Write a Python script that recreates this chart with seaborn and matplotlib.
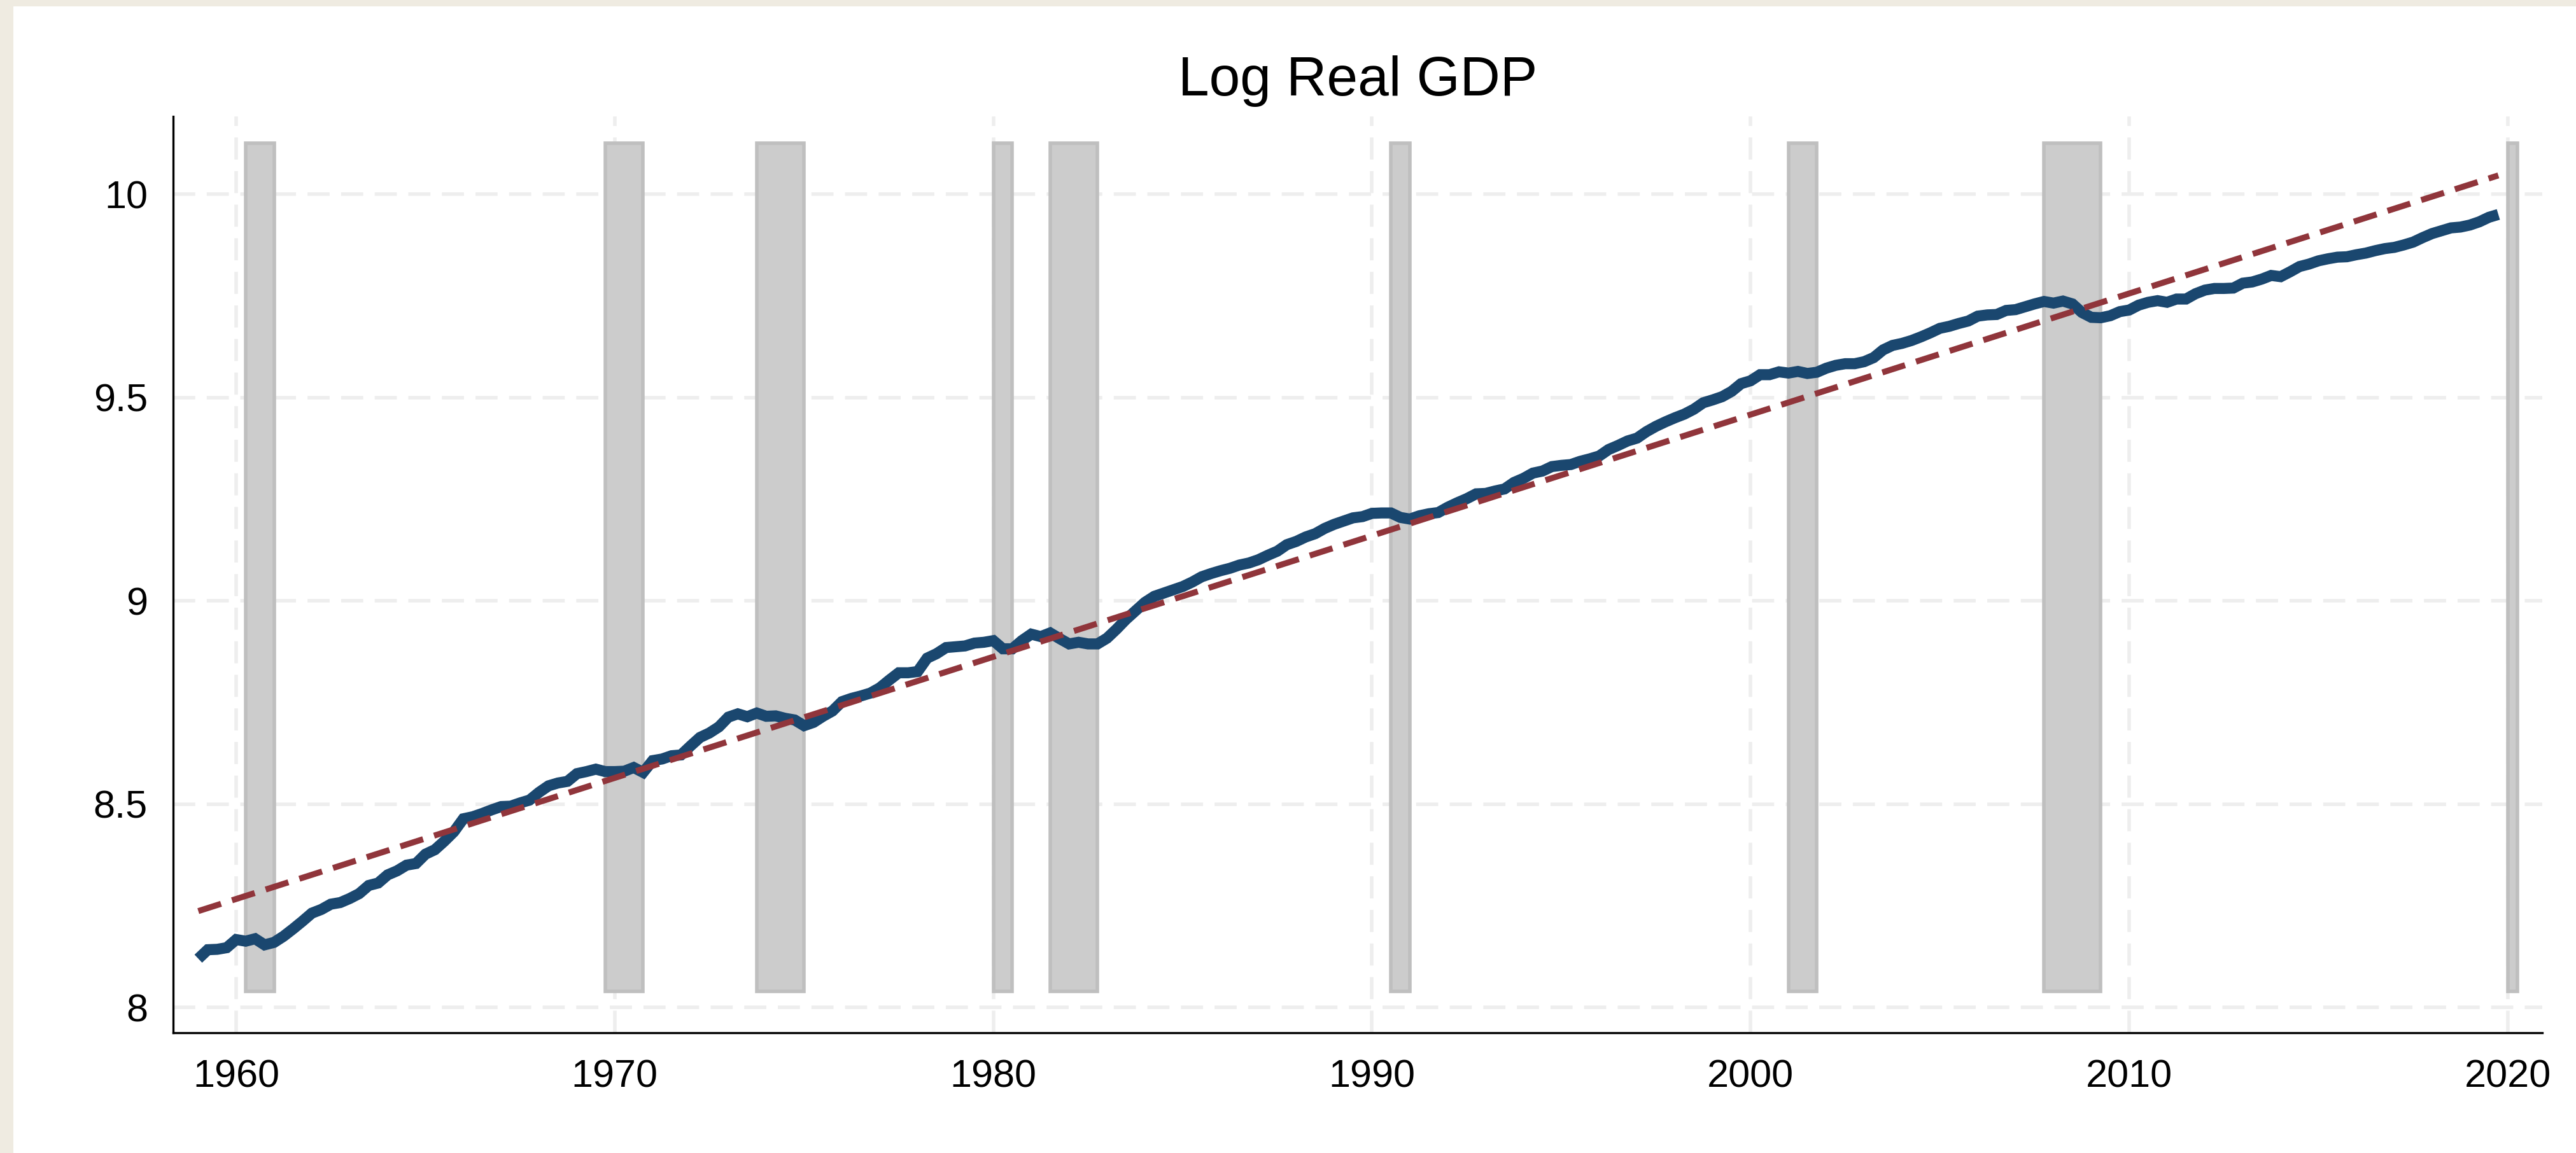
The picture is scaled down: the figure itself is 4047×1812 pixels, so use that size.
import numpy as np
import pandas as pd
import matplotlib
matplotlib.use("Agg")
import matplotlib.pyplot as plt
import seaborn as sns
from matplotlib.patches import Rectangle

# ---------------- data ----------------
title_text = "Log Real GDP"
start_year = 1959  # first quarter 1959Q1, quarterly data through 2019Q4

log_gdp = [
    8.120, 8.142, 8.143, 8.147,   # 1959
    8.167, 8.163, 8.169, 8.154,   # 1960
    8.160, 8.175, 8.193, 8.212,   # 1961
    8.232, 8.241, 8.254, 8.258,   # 1962
    8.268, 8.280, 8.300, 8.306,   # 1963
    8.326, 8.336, 8.350, 8.354,   # 1964
    8.377, 8.388, 8.409, 8.432,   # 1965
    8.464, 8.469, 8.477, 8.486,   # 1966
    8.494, 8.495, 8.503, 8.510,   # 1967
    8.529, 8.545, 8.552, 8.556,   # 1968
    8.575, 8.580, 8.586, 8.580,   # 1969
    8.580, 8.581, 8.590, 8.578,   # 1970
    8.607, 8.611, 8.619, 8.621,   # 1971
    8.643, 8.664, 8.675, 8.690,   # 1972
    8.714, 8.722, 8.715, 8.724,   # 1973
    8.716, 8.717, 8.711, 8.707,   # 1974
    8.693, 8.701, 8.716, 8.729,   # 1975
    8.752, 8.760, 8.766, 8.773,   # 1976
    8.786, 8.805, 8.823, 8.823,   # 1977
    8.826, 8.859, 8.870, 8.885,   # 1978
    8.887, 8.889, 8.896, 8.898,   # 1979
    8.902, 8.882, 8.882, 8.902,   # 1980
    8.918, 8.912, 8.921, 8.907,   # 1981
    8.894, 8.898, 8.894, 8.894,   # 1982
    8.908, 8.930, 8.954, 8.975,   # 1983
    8.996, 9.011, 9.019, 9.027,   # 1984
    9.035, 9.046, 9.059, 9.067,   # 1985
    9.074, 9.080, 9.088, 9.093,   # 1986
    9.101, 9.112, 9.122, 9.138,   # 1987
    9.146, 9.157, 9.165, 9.178,   # 1988
    9.188, 9.196, 9.204, 9.207,   # 1989
    9.215, 9.216, 9.216, 9.205,   # 1990
    9.201, 9.209, 9.214, 9.217,   # 1991
    9.230, 9.241, 9.251, 9.263,   # 1992
    9.264, 9.270, 9.275, 9.291,   # 1993
    9.301, 9.314, 9.319, 9.330,   # 1994
    9.333, 9.335, 9.343, 9.349,   # 1995
    9.356, 9.372, 9.382, 9.393,   # 1996
    9.400, 9.416, 9.429, 9.440,   # 1997
    9.450, 9.459, 9.471, 9.487,   # 1998
    9.494, 9.502, 9.515, 9.534,   # 1999
    9.541, 9.556, 9.556, 9.563,   # 2000
    9.560, 9.564, 9.559, 9.562,   # 2001
    9.572, 9.579, 9.583, 9.583,   # 2002
    9.588, 9.598, 9.617, 9.628,   # 2003
    9.633, 9.640, 9.649, 9.659,   # 2004
    9.670, 9.675, 9.682, 9.688,   # 2005
    9.700, 9.703, 9.704, 9.714,   # 2006
    9.716, 9.723, 9.730, 9.736,   # 2007
    9.732, 9.737, 9.730, 9.709,   # 2008
    9.697, 9.696, 9.701, 9.711,   # 2009
    9.715, 9.727, 9.734, 9.738,   # 2010
    9.734, 9.742, 9.742, 9.755,   # 2011
    9.764, 9.768, 9.768, 9.769,   # 2012
    9.781, 9.784, 9.791, 9.800,   # 2013
    9.797, 9.809, 9.822, 9.828,   # 2014
    9.836, 9.841, 9.845, 9.846,   # 2015
    9.851, 9.855, 9.861, 9.866,   # 2016
    9.869, 9.875, 9.882, 9.893,   # 2017
    9.903, 9.910, 9.917, 9.919,   # 2018
    9.924, 9.932, 9.943, 9.950,   # 2019
]

# linear trend (endpoints)
trend_x = [1959.0, 2019.75]
trend_y = [8.237, 10.046]

# recession shading (quarter dates, peak -> trough)
rec_start = [1960.25, 1969.75, 1973.75, 1980.00, 1981.50, 1990.50, 2001.00, 2007.75, 2020.00]
rec_end   = [1961.00, 1970.75, 1975.00, 1980.50, 1982.75, 1991.00, 2001.75, 2009.25, 2020.25]
rec_low, rec_high = 8.04, 10.125

y_ticks = [8, 8.5, 9, 9.5, 10]
y_tick_labels = ["8", "8.5", "9", "9.5", "10"]
x_ticks = [1960, 1970, 1980, 1990, 2000, 2010, 2020]
x_tick_labels = ["1960", "1970", "1980", "1990", "2000", "2010", "2020"]

# ---------------- style ----------------
sns.set_style("white")
plt.rcParams["font.family"] = ["Liberation Sans", "DejaVu Sans"]
plt.rcParams["lines.scale_dashes"] = False

W, H, DPI = 4047, 1812, 100
fig = plt.figure(figsize=(W / DPI, H / DPI), dpi=DPI, facecolor="white")

# beige frame strips (left and top)
beige = "#EFEBE1"
fig.patches.append(Rectangle((0, 0), 21 / W, 1, transform=fig.transFigure,
                             facecolor=beige, edgecolor="none", zorder=0))
fig.patches.append(Rectangle((0, 1 - 10 / H), 1, 10 / H, transform=fig.transFigure,
                             facecolor=beige, edgecolor="none", zorder=0))

ax_l, ax_r = 271.7 / W, 3994 / W
ax_t, ax_b = 1 - 183 / H, 1 - 1623.3 / H
ax = fig.add_axes([ax_l, ax_b, ax_r - ax_l, ax_t - ax_b])
ax.set_facecolor("white")

n = len(log_gdp)
dates = start_year + np.arange(n) / 4.0
df = pd.DataFrame({"date": dates, "lgdp": log_gdp})

# recession bars
rec_df = pd.DataFrame({"start": rec_start, "end": rec_end})
ax.bar(rec_df["start"], rec_high - rec_low, width=rec_df["end"] - rec_df["start"],
       bottom=rec_low, align="edge", color="#CCCCCC", edgecolor="#BFBFBF",
       linewidth=4.0, zorder=1)

# GDP line
sns.lineplot(data=df, x="date", y="lgdp", ax=ax, color="#1A476F",
             estimator=None, sort=False, zorder=3)
gdp_line = ax.lines[-1]
gdp_line.set_linewidth(12.5)
gdp_line.set_solid_capstyle("butt")
gdp_line.set_solid_joinstyle("miter")

# trend line
trend_df = pd.DataFrame({"x": trend_x, "y": trend_y})
sns.lineplot(data=trend_df, x="x", y="y", ax=ax, color="#90353B",
             estimator=None, sort=False, zorder=4)
trend_line = ax.lines[-1]
trend_line.set_linewidth(6.8)
trend_line.set_linestyle((0, (27, 13)))
trend_line.set_dash_capstyle("butt")

ax.set_xlim(1958.33, 2020.91)
ax.set_ylim(7.9374, 10.191)
ax.set_xticks(x_ticks)
ax.set_xticklabels(x_tick_labels)
ax.set_yticks(y_ticks)
ax.set_yticklabels(y_tick_labels)
ax.set_xlabel("")
ax.set_ylabel("")

ax.set_axisbelow(True)
ax.grid(True, color="#EEEEEE", linewidth=4.0, linestyle=(0, (25, 13)))

for side in ["top", "right"]:
    ax.spines[side].set_visible(False)
for side in ["left", "bottom"]:
    ax.spines[side].set_visible(True)
    ax.spines[side].set_color("black")
    ax.spines[side].set_linewidth(2.4)

ax.tick_params(axis="both", direction="out", length=18.5, width=2.4, color="black",
               labelsize=44, labelcolor="black")
ax.tick_params(axis="x", pad=11)
ax.tick_params(axis="y", pad=10)

ax.set_title(title_text, fontsize=63, color="black", pad=24)

fig.savefig("out.png", dpi=DPI, facecolor=fig.get_facecolor())
